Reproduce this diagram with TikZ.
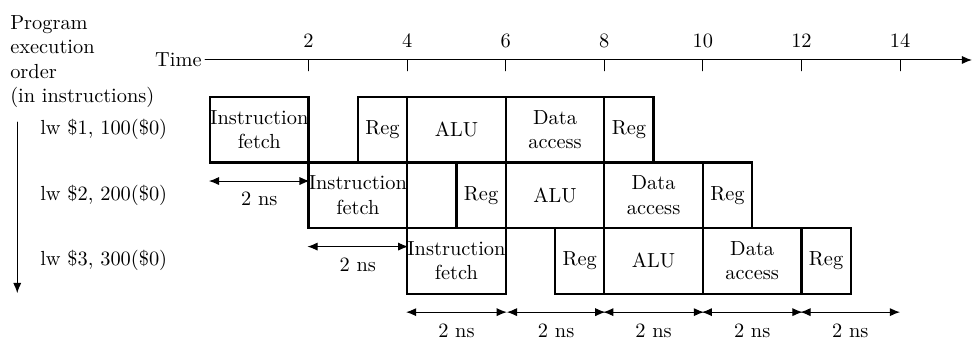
\documentclass[tikz,border=0pt]{standalone}
\usepackage{tikz}
\usetikzlibrary{arrows.meta}

\begin{document}
\begin{tikzpicture}[x=0.85cm, y=0.85cm, line cap=round,
  stage/.style={draw, line width=1.1pt, line cap=butt, inner sep=0pt, align=center, minimum height=1.33*0.85cm},
  nsarrow/.style={{Latex[length=5pt,width=4pt]}-{Latex[length=5pt,width=4pt]}, line width=0.5pt}]

\def\unit{0.85cm}
\def\gap{0.3cm}

\def\rowone{-1.415}
\def\rowtwo{-2.745}
\def\rowthree{-4.075}

\useasboundingbox (-4.26,1.217) rectangle (15.48,-5.66);

% Time axis

  \node[anchor=east, inner sep=1.5pt] (time) at (-0.1,0) {Time};
  \coordinate (axisend) at (15.46,0);
  \draw[-{Latex[length=5pt,width=4pt]}, line width=0.5pt] (time.east) -- (axisend);

  \draw (2,0) coordinate (tick2) -- (2,-0.22);
  \draw (4,0) coordinate (tick4) -- (4,-0.22);
  \draw (6,0) coordinate (tick6) -- (6,-0.22);
  \draw (8,0) coordinate (tick8) -- (8,-0.22);
  \draw (10,0) coordinate (tick10) -- (10,-0.22);
  \draw (12,0) coordinate (tick12) -- (12,-0.22);
  \draw (14,0) coordinate (tick14) -- (14,-0.22);

  \node[above=2.5pt] (lab2) at (tick2) {2};
  \node[above=2.5pt] (lab4) at (tick4) {4};
  \node[above=2.5pt] (lab6) at (tick6) {6};
  \node[above=2.5pt] (lab8) at (tick8) {8};
  \node[above=2.5pt] (lab10) at (tick10) {10};
  \node[above=2.5pt] (lab12) at (tick12) {12};
  \node[above=2.5pt] (lab14) at (tick14) {14};

% Program order

  \node[anchor=north west, align=left, inner sep=0pt] (order) at (-4.06,0.91) {Program\\execution\\order\\(in instructions)};

  \coordinate (ordertop) at (-3.91,-1.26);
  \coordinate (orderbot) at (-3.91,-4.73);
  \draw[-{Latex[length=5pt,width=4pt]}, line width=0.5pt] (ordertop) -- (orderbot);

  \node[anchor=west, inner sep=0pt] (instr1) at (-3.45,\rowone) {lw \$1, 100(\$0)};
  \node[anchor=west, inner sep=0pt] (instr2) at (-3.45,\rowtwo) {lw \$2, 200(\$0)};
  \node[anchor=west, inner sep=0pt] (instr3) at (-3.45,\rowthree) {lw \$3, 300(\$0)};

% First instruction

  \node[stage, minimum width=2*\unit] (if1) at (1,\rowone) {Instruction\\fetch};
  \node[stage, minimum width=\unit] (reg1) at (3.5,\rowone) {Reg};
  \node[stage, minimum width=2*\unit] (alu1) at (5,\rowone) {ALU};
  \node[stage, minimum width=2*\unit] (mem1) at (7,\rowone) {Data\\access};
  \node[stage, minimum width=\unit] (wb1) at (8.5,\rowone) {Reg};

% Second instruction

  \node[stage, minimum width=2*\unit] (if2) at (3,\rowtwo) {Instruction\\fetch};
  \node[stage, minimum width=\unit] (reg2) at (5.5,\rowtwo) {Reg};
  \node[stage, minimum width=2*\unit] (alu2) at (7,\rowtwo) {ALU};
  \node[stage, minimum width=2*\unit] (mem2) at (9,\rowtwo) {Data\\access};
  \node[stage, minimum width=\unit] (wb2) at (10.5,\rowtwo) {Reg};

% Third instruction

  \node[stage, minimum width=2*\unit] (if3) at (5,\rowthree) {Instruction\\fetch};
  \node[stage, minimum width=\unit] (reg3) at (7.5,\rowthree) {Reg};
  \node[stage, minimum width=2*\unit] (alu3) at (9,\rowthree) {ALU};
  \node[stage, minimum width=2*\unit] (mem3) at (11,\rowthree) {Data\\access};
  \node[stage, minimum width=\unit] (wb3) at (12.5,\rowthree) {Reg};

% 2 ns spans

  \draw[nsarrow] ([yshift=-\gap]if1.south west) -- ([yshift=-\gap]if1.south east) node[midway, below=2pt] (ns1) {2 ns};
  \draw[nsarrow] ([yshift=-\gap]if2.south west) -- ([yshift=-\gap]if2.south east) node[midway, below=2pt] (ns2) {2 ns};

  \coordinate (end14) at (wb3.south west -| tick14);

  \draw[nsarrow] ([yshift=-\gap]if3.south west) -- ([yshift=-\gap]if3.south east) node[midway, below=2pt] (ns3) {2 ns};
  \draw[nsarrow] ([yshift=-\gap]if3.south east) -- ([yshift=-\gap]reg3.south east) node[midway, below=2pt] (ns4) {2 ns};
  \draw[nsarrow] ([yshift=-\gap]alu3.south west) -- ([yshift=-\gap]alu3.south east) node[midway, below=2pt] (ns5) {2 ns};
  \draw[nsarrow] ([yshift=-\gap]mem3.south west) -- ([yshift=-\gap]mem3.south east) node[midway, below=2pt] (ns6) {2 ns};
  \draw[nsarrow] ([yshift=-\gap]wb3.south west) -- ([yshift=-\gap]end14) node[midway, below=2pt] (ns7) {2 ns};

\end{tikzpicture}
\end{document}
